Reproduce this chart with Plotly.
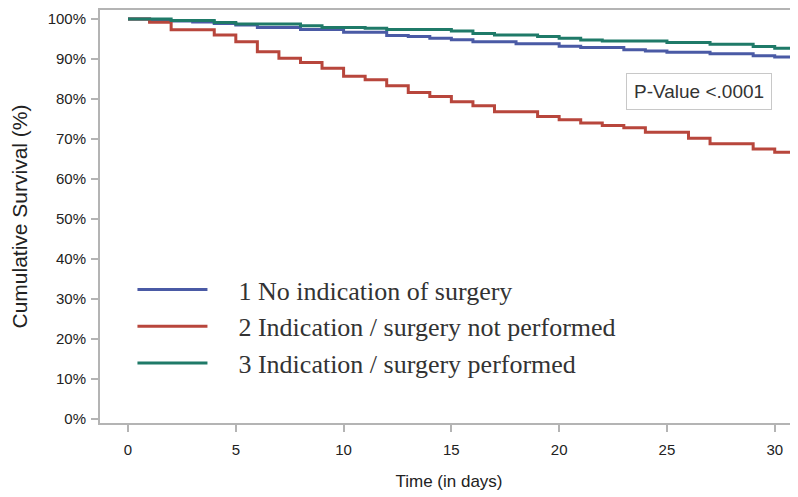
import plotly.graph_objects as go

# Days (time axis)
days = list(range(0, 32))

# Kaplan-Meier survival estimates (%), per day
no_indication = [100, 99.5, 99.5, 99.25, 98.9, 98.5, 97.9, 97.9, 97.4, 97.4,
                 96.7, 96.7, 95.9, 95.6, 95.2, 94.8, 94.3, 94.3, 93.8, 93.8,
                 93.2, 92.9, 92.9, 92.3, 92.0, 91.7, 91.7, 91.3, 91.3, 90.8,
                 90.5, 90.5]
ind_not_performed = [100, 99.2, 97.3, 97.3, 96.0, 94.3, 91.8, 90.2, 89.1, 87.7,
                     85.7, 84.8, 83.3, 81.6, 80.6, 79.3, 78.3, 76.8, 76.8, 75.6,
                     74.8, 74.0, 73.4, 72.8, 71.7, 71.7, 70.2, 68.8, 68.8, 67.5,
                     66.7, 66.7]
ind_performed = [100, 100, 99.6, 99.6, 99.1, 98.75, 98.75, 98.75, 98.3, 97.9,
                 97.9, 97.7, 97.4, 97.4, 97.4, 97.0, 96.4, 96.0, 96.0, 95.6,
                 95.2, 94.75, 94.5, 94.5, 94.5, 94.1, 94.1, 93.7, 93.7, 93.1,
                 92.7, 92.7]

series_names = ["1 No indication of surgery",
                "2 Indication / surgery not performed",
                "3 Indication / surgery performed"]
series_colors = ["#4a5aa5", "#b8463c", "#1f7a68"]

x_ticks = [0, 5, 10, 15, 20, 25, 30]
y_ticks = [0, 10, 20, 30, 40, 50, 60, 70, 80, 90, 100]
y_tick_labels = [f"{v}%" for v in y_ticks]

fig = go.Figure()
pad = "\u00a0\u00a0\u00a0\u00a0"
for name, vals, col in zip(series_names,
                           [no_indication, ind_not_performed, ind_performed],
                           series_colors):
    fig.add_trace(go.Scatter(x=days, y=vals, mode="lines", name=pad + name,
                             line=dict(color=col, width=3, shape="hv")))

axis_col = "#b4b4b4"
fig.update_layout(
    width=790, height=489,
    margin=dict(l=92, r=0, t=2, b=74),
    paper_bgcolor="white", plot_bgcolor="white",
    font=dict(family="Liberation Sans, Arial, sans-serif", color="#222"),
    showlegend=True,
    legend=dict(x=0.0465, y=0.38, xanchor="left", yanchor="top",
                bgcolor="rgba(0,0,0,0)", itemwidth=70,
                font=dict(family="Liberation Serif, Times New Roman, serif",
                          size=26, color="#333"),
                tracegroupgap=0),
    xaxis=dict(range=[-1.3, 31.08], tickvals=x_ticks,
               ticks="outside", ticklen=7, tickwidth=1.5, tickcolor=axis_col,
               ticklabelstandoff=5,
               showline=True, linecolor=axis_col, linewidth=2, mirror=True,
               showgrid=False, zeroline=False,
               tickfont=dict(size=15, color="#222"),
               title=dict(text="Time (in days)", font=dict(size=17, color="#222"),
                          standoff=18)),
    yaxis=dict(range=[-1.0, 102.25], tickvals=y_ticks, ticktext=y_tick_labels,
               ticks="outside", ticklen=7, tickwidth=1.5, tickcolor=axis_col,
               ticklabelstandoff=2,
               showline=True, linecolor=axis_col, linewidth=2,
               showgrid=False, zeroline=False,
               tickfont=dict(size=15, color="#222"),
               title=dict(text="Cumulative Survival (%)",
                          font=dict(size=21, color="#222"), standoff=16)),
    annotations=[dict(xref="paper", yref="paper", x=0.858, y=0.803,
                      xanchor="center", yanchor="middle",
                      text="P-Value <.0001", showarrow=False,
                      font=dict(size=19, color="#333"),
                      bordercolor="#c8c8c8", borderwidth=1, borderpad=7,
                      bgcolor="white")],
)

fig.write_html("out.html")
